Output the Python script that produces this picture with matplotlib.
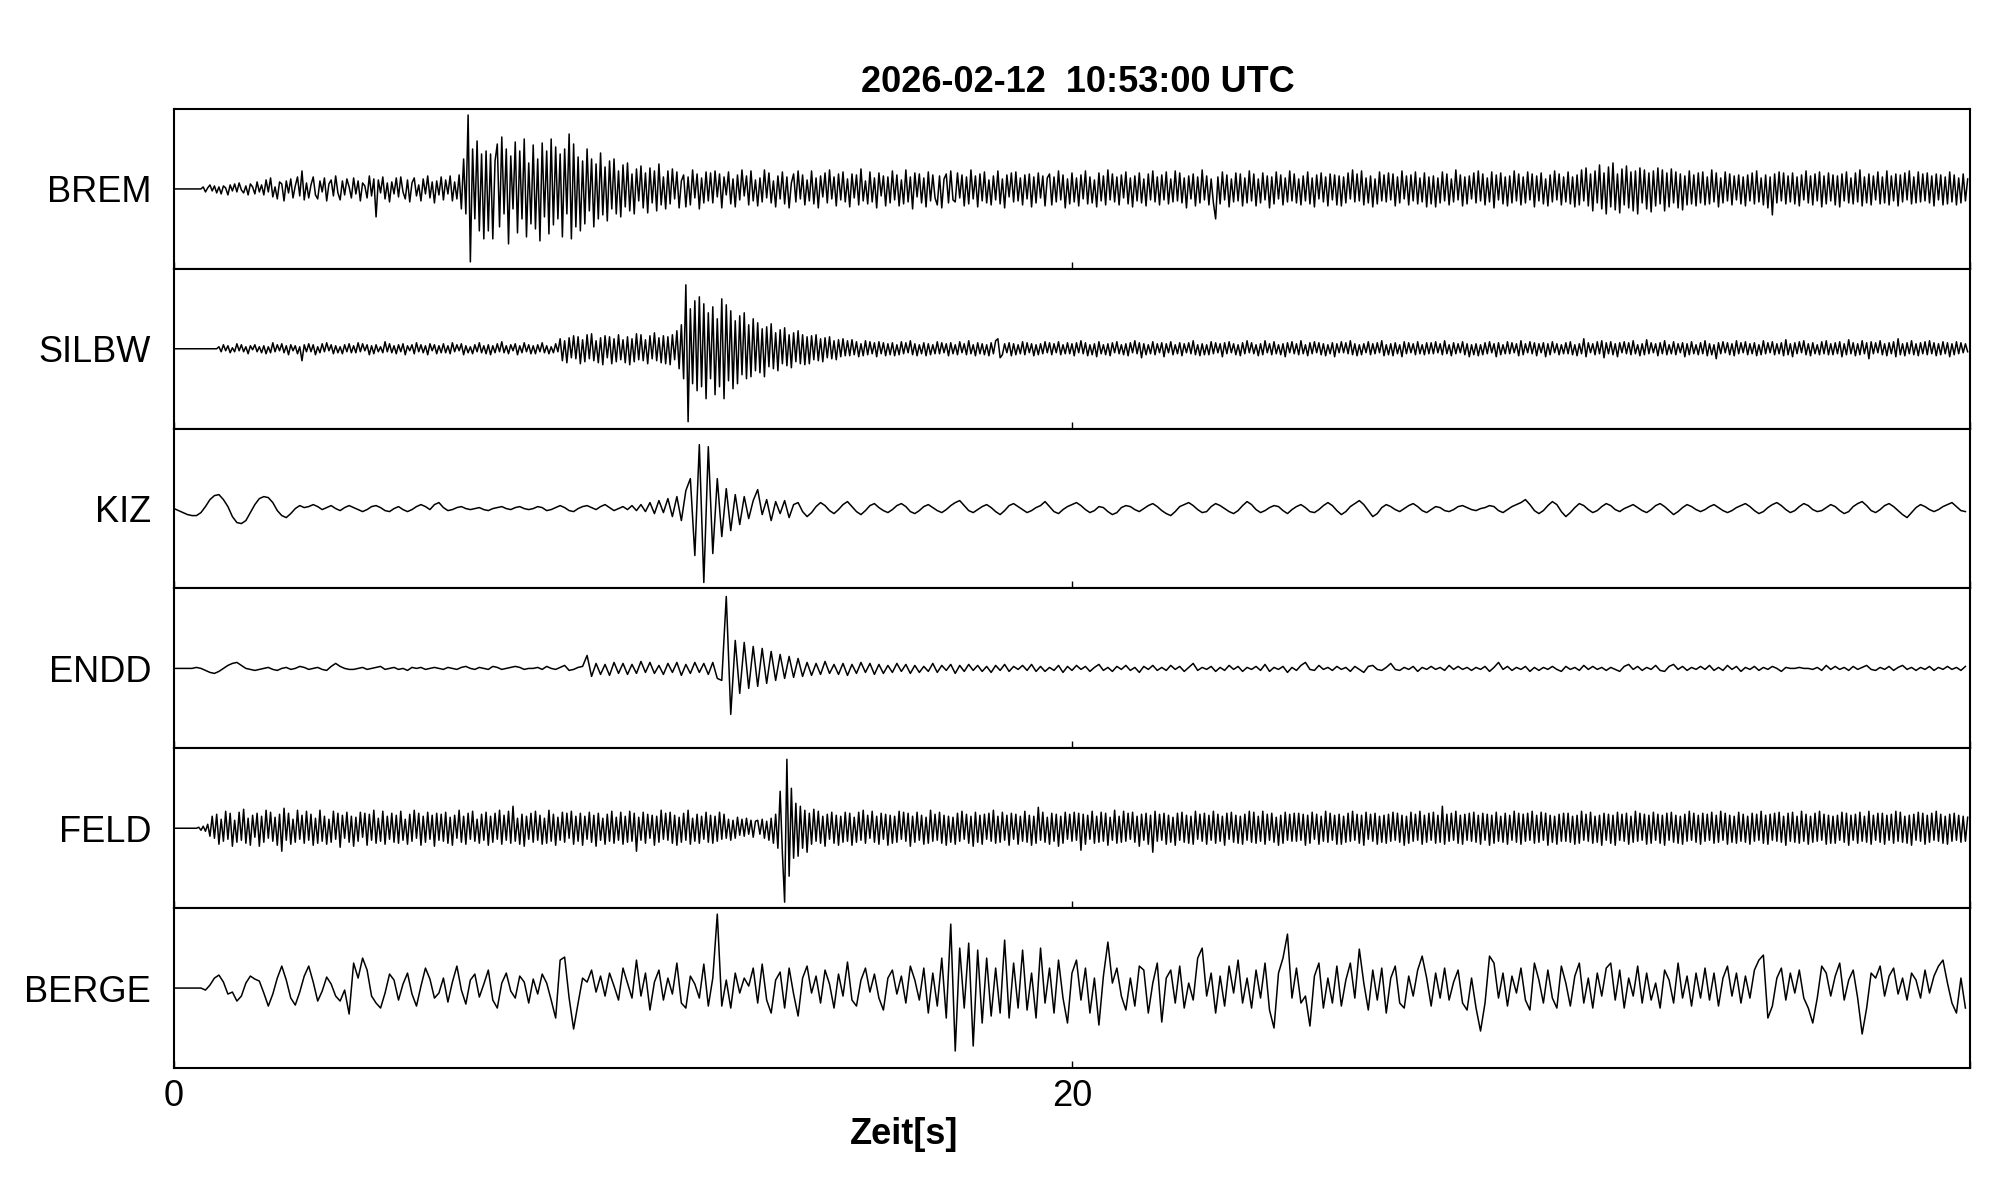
import numpy as np
import matplotlib
matplotlib.use("Agg")
import matplotlib.pyplot as plt

plt.rcParams["font.family"] = ["Liberation Sans", "DejaVu Sans"]

title = "2026-02-12  10:53:00 UTC"
xlabel = "Zeit[s]"
stations = ["BREM", "SILBW", "KIZ", "ENDD", "FELD", "BERGE"]
# samples per second of each trace below
rates = [20, 20, 10, 10, 20, 10]
xticks = [0, 20, 40]
xticklabels = ["0", "20", ""]

# amplitudes (scaled counts), one row per second
brem = [
    0, 0, 0, 0, 0, 0, 0, 0, 0, 0, 0, 0, 0, 2, -3, 1, 4, -2, 3, -4,
    2, -5, 3, 1, -6, 4, -2, 5, -3, 6, -1, -4, 3, -6, 5, 2, -5, 7, -3, 4,
    -6, 9, -3, 11, -8, 2, -10, 7, 5, -12, 8, -4, 10, -9, 3, 12, -7, 18, -11, 6,
    -9, 4, 12, -6, -10, 8, -3, 11, -12, 5, 9, -7, 13, -4, -11, 8, -6, 10, 2, -9,
    11, -5, 8, -12, 6, 3, -9, 13, -7, 10, -28, 9, -4, 12, -10, 6, -13, 7, -5, 11,
    -8, 12, -3, -10, 9, -13, 6, 11, -7, 4, -12, 10, -5, 13, -9, 7, -14, 8, -6, 12,
    -11, 9, -5, 13, -12, 7, -10, 14, -20, 30, -25, 74, -73, 40, -30, 48, -42, 35, -50, 38,
    -42, 35, -50, 28, 45, -38, 52, -25, 40, -55, 33, -20, 47, -44, 38, -30, 50, -48, 26, -35,
    44, -40, 30, -52, 46, -28, 38, -45, 50, -36, 42, -30, 35, -48, 40, -25, 55, -50, 45, -38,
    32, -42, 28, -35, 40, -22, 30, -38, 25, -30, 36, -26, 22, -32, 28, -20, 30, -25, 18, -28,
    24, -18, 26, -22, 15, -25, 20, -12, 23, -19, 16, -24, 21, -14, 18, -22, 25, -16, 12, -20,
    18, -15, 20, -10, 17, -19, 8, 14, -18, 12, -16, 19, -9, 15, -20, 11, -14, 17, -12, 16,
    -14, 18, -8, 15, -19, 12, -6, 17, -15, 10, -18, 14, -11, 19, -7, 13, -16, 18, -12, 9,
    -17, 11, -13, 19, -9, 16, -14, 8, -18, 13, -10, 17, -15, 12, -19, 6, 15, -13, 18, -10,
    14, -16, 9, -12, 18, -15, 11, -19, 13, -8, 16, -14, 19, -10, 12, -17, 15, -11, 17, -13,
    10, -18, 15, -9, 14, -16, 20, -12, 8, -15, 17, -13, 11, -19, 16, -7, 13, -17, 12, -14,
    18, -11, 14, -17, 9, -15, 19, -13, 12, -20, 16, -8, 15, -14, 11, -18, 17, -12, 14, -9,
    -16, 13, -19, 10, 15, -14, 18, -11, -13, 16, -9, 14, -17, 12, -15, 19, -10, 13, -18, 15,
    -12, 17, -14, 9, -16, 13, -11, 18, -15, 10, -19, 14, -8, 16, -13, 17, -12, 11, -16, 14,
    -10, 15, -18, 12, -14, 16, -9, 13, -17, 11, 15, -16, 12, -13, 18, -11, 14, -19, 10, -15,
    16, -13, 11, -17, 14, -10, 18, -15, 12, -14, 9, -18, 16, -12, 13, -16, 19, -11, 15, -13,
    12, -16, 14, -9, 17, -15, 11, -18, 13, -12, 16, -14, 10, -17, 15, -11, 18, -13, 12, -16,
    14, -11, 17, -15, 10, -13, 18, -12, 16, -14, 11, -19, 13, -10, 15, -17, 12, -14, 19, -11,
    13, -16, 10, -14, -30, 12, -15, 17, -11, 14, -18, 10, -13, 16, -12, 15, -17, 11, -14, 18,
    -12, 15, -17, 10, -14, 16, -11, 13, -19, 12, -15, 17, -10, 14, -16, 11, -13, 18, -12, 15,
    -14, 10, -16, 13, -12, 17, -15, 11, -18, 14, -10, 16, -13, 12, -17, 15, -11, 14, -16, 13,
    -17, 12, -14, 16, -10, 19, -13, 15, -12, 18, -16, 11, -14, 13, -18, 10, -15, 17, -12, 14,
    -13, 16, -11, 15, -17, 12, -14, 18, -10, 13, -16, 14, -12, 17, -15, 11, -13, 16, -18, 12,
    -15, 13, -18, 11, -14, 17, -12, 15, -16, 10, -13, 19, -11, 14, -17, 12, -15, 13, -10, 16,
    -14, 18, -12, 15, -16, 11, -13, 17, -19, 14, -11, 16, -15, 12, -17, 13, -14, 18, -12, 15,
    -16, 12, -14, 17, -11, 15, -18, 13, -12, 16, -15, 10, -17, 14, -13, 18, -11, 15, -16, 12,
    -13, 17, -15, 12, -18, 14, -16, 19, -12, 21, -17, 15, -22, 18, -14, 24, -20, 16, -25, 22,
    -18, 26, -21, 15, -24, 20, -16, 23, -19, 17, -22, 18, -25, 21, -14, 19, -20, 16, -23, 18,
    -17, 21, -15, 19, -22, 16, -18, 20, -14, 17, -19, 15, -21, 13, -16, 18, -15, 14, -17, 16,
    -14, 17, -16, 12, -15, 19, -13, 16, -18, 11, -14, 17, -12, 15, -16, 13, -11, 14, -15, 12,
    -17, 14, -12, 16, -15, 18, -13, 11, -16, 14, -19, 12, -26, 15, -14, 17, -12, 16, -15, 13,
    -13, 16, -15, 12, -17, 14, -11, 18, -14, 13, -16, 15, -12, 17, -18, 13, -15, 16, -12, 14,
    -16, 13, -18, 15, -12, 17, -14, 11, -15, 16, -13, 19, -17, 12, -14, 15, -16, 13, -11, 17,
    -15, 12, -14, 18, -16, 13, -12, 15, -17, 14, -13, 16, -11, 18, -15, 12, -14, 17, -13, 15,
    -12, 16, -14, 13, -17, 15, -11, 14, -16, 12, -15, 17, -13, 14, -16, 11, -14, 15, -12, 10,
]
silbw = [
    0, 0, 0, 0, 0, 0, 0, 0, 0, 0, 0, 0, 0, 0, 0, 0, 0, 0, 0, 0,
    2, -3, 4, -2, 3, -4, 1, -3, 5, -2, 4, -3, 2, -5, 3, -1, 4, -3, 2, -4,
    3, -5, 2, -4, 6, -3, 4, -2, 5, -4, 3, -6, 4, -2, 3, -5, 2, -12, 4, -3,
    5, -3, 4, -6, 2, -4, 5, -3, 6, -2, 4, -5, 3, -4, 2, -5, 4, -3, 5, -4,
    3, -4, 6, -3, 5, -2, 4, -6, 3, -5, 4, -3, 2, -4, 7, -3, 5, -4, 3, -5,
    4, -3, 5, -6, 3, -2, 4, -5, 6, -3, 4, -4, 3, -6, 5, -2, 4, -5, 3, -4,
    5, -4, 3, -5, 6, -3, 4, -2, 5, -6, 3, -4, 2, -5, 4, -3, 6, -4, 3, -5,
    4, -6, 3, -4, 5, -3, 7, -4, 3, -5, 4, -2, 5, -6, 3, -4, 6, -3, 4, -5,
    3, -5, 4, -3, 6, -4, 3, -5, 2, -4, 5, -3, 10, -12, 8, -14, 11, -9, 13, -10,
    12, -15, 9, -13, 14, -10, 15, -12, 8, -14, 11, -16, 13, -9, 12, -15, 10, -13, 14, -11,
    9, -14, 12, -16, 10, -13, 15, -11, 14, -12, 9, -15, 13, -10, 16, -12, 11, -14, 13, -15,
    12, -16, 14, -11, 18, -20, 24, -30, 64, -73, 40, -35, 48, -42, 52, -38, 45, -50, 36, -30,
    42, -46, 30, -38, 50, -50, 44, -32, 38, -40, 28, -35, 33, -26, 36, -30, 24, -28, 30, -22,
    26, -24, 20, -28, 22, -18, 25, -20, 16, -22, 19, -15, 21, -17, 14, -19, 16, -13, 18, -15,
    14, -16, 12, -15, 13, -11, 14, -12, 10, -13, 11, -9, 12, -10, 8, -11, 9, -8, 10, -7,
    8, -7, 9, -6, 7, -8, 5, -7, 8, -6, 7, -5, 6, -8, 7, -5, 6, -7, 5, -6,
    6, -7, 4, -6, 7, -5, 6, -4, 8, -6, 5, -7, 4, -5, 6, -7, 5, -6, 4, -5,
    7, -5, 6, -4, 5, -7, 6, -5, 4, -6, 7, -4, 5, -6, 8, -5, 4, -7, 6, -5,
    5, -6, 4, -7, 6, -5, 8, 10, -9, -6, 5, -4, 6, -7, 5, -6, 4, -5, 7, -6,
    6, -4, 5, -7, 4, -6, 5, -5, 7, -4, 6, -6, 5, -4, 7, -6, 4, -5, 6, -5,
    5, -7, 6, -4, 8, -5, 6, -7, 4, -6, 5, -8, 7, -5, 4, -6, 5, -7, 6, -4,
    7, -5, 4, -6, 5, -7, 6, -4, 8, -5, 6, -9, 5, -6, 4, -5, 7, -6, 5, -4,
    6, -8, 5, -4, 7, -6, 4, -5, 6, -7, 5, -4, 6, -5, 8, -6, 4, -7, 5, -6,
    4, -6, 7, -5, 6, -4, 5, -8, 6, -5, 7, -4, 5, -6, 4, -7, 6, -5, 8, -4,
    6, -5, 4, -7, 5, -6, 8, -4, 5, -6, 7, -5, 4, -6, 5, -8, 6, -4, 7, -5,
    5, -6, 8, -5, 4, -7, 6, -5, 7, -4, 6, -6, 5, -7, 4, -5, 6, -8, 5, -4,
    7, -4, 6, -5, 8, -6, 5, -7, 4, -6, 5, -4, 7, -6, 5, -5, 6, -4, 8, -7,
    4, -6, 5, -7, 6, -5, 4, -8, 7, -5, 6, -4, 5, -6, 7, -5, 4, -6, 6, -5,
    6, -5, 7, -4, 5, -6, 8, -5, 4, -7, 6, -5, 5, -4, 7, -6, 5, -8, 4, -6,
    5, -7, 4, -6, 6, -5, 7, -4, 5, -8, 6, -6, 4, -5, 7, -5, 6, -4, 5, -7,
    8, -6, 5, -4, 7, -5, 6, -7, 5, -4, 6, -8, 5, -6, 7, -4, 5, -6, 4, -5,
    6, -5, 7, -6, 4, -7, 5, -5, 10, -8, 6, -4, 5, -6, 7, -5, 8, -9, 6, -5,
    7, -6, 5, -8, 6, -4, 7, -5, 6, -6, 8, -5, 4, -7, 5, -6, 9, -5, 6, -4,
    5, -7, 6, -5, 8, -6, 4, -5, 7, -6, 5, -4, 6, -8, 5, -6, 7, -5, 4, -6,
    6, -5, 8, -7, 5, -6, 4, -10, 6, -5, 7, -4, 6, -6, 5, -7, 8, -5, 6, -4,
    7, -6, 5, -5, 6, -7, 4, -6, 8, -5, 6, -4, 7, -6, 5, -5, 6, -7, 9, -6,
    5, -8, 6, -5, 7, -4, 8, -6, 5, -7, 6, -5, 4, -6, 7, -5, 8, -6, 5, -6,
    6, -5, 7, -8, 5, -6, 9, -5, 6, -7, 5, -6, 8, -5, 6, -10, 7, -5, 6, -4,
    8, -6, 5, -7, 6, -5, 7, -8, 10, -6, 5, -7, 6, -5, 8, -6, 5, -7, 6, -5,
    7, -6, 8, -5, 6, -7, 5, -6, 7, -5, 6, -8, 5, -6, 7, -5, 6, -4, 5, -3,
]
kiz = [
    0, -2, -4, -6, -7, -7, -4, 2, 9, 13, 14, 9, 2, -8, -14, -15, -12, -4, 4, 10,
    12, 11, 6, -2, -7, -9, -5, 0, 3, 1, 2, 4, 2, -1, 1, 3, 0, -2, 1, 3,
    1, -1, -3, -1, 2, 3, 1, -2, -3, 0, 2, -1, -3, -1, 2, 4, 2, -1, 4, 6,
    1, -2, -1, 1, 2, 0, -1, 0, 1, -1, -2, 0, 1, 2, 0, -1, 1, 2, 0, -1,
    0, 2, 1, -2, -1, 1, 3, 1, -2, -3, 0, 2, 3, 1, -1, 2, 4, 1, -2, 0,
    2, -1, 3, -2, 4, -3, 6, -5, 8, -4, 10, -8, 12, -12, 18, 30, -47, 64, -74, 62,
    -45, 30, -28, 20, -22, 14, -16, 12, -10, 8, 19, -6, 9, -12, 7, -5, 8, -9, 4, 6,
    -3, -8, -4, 2, 6, 3, -2, -5, -1, 4, 7, 2, -3, -6, -2, 3, 5, 1, -2, -4,
    -1, 3, 5, 2, -3, -5, -2, 2, 4, 1, -2, -4, -1, 3, 6, 8, 3, -2, -4, -1,
    2, 4, 1, -3, -6, -2, 3, 5, 2, -1, -4, -2, 1, 3, 7, 2, -3, -5, -1, 2,
    4, 6, 3, -1, -4, -2, 2, 1, -3, -6, -4, 1, 3, 2, -1, -3, 0, 3, 5, 2,
    -2, -5, -7, -3, 2, 4, 6, 3, -1, -4, -3, 2, 5, 3, 0, -3, -5, -2, 3, 7,
    4, -1, -4, -2, 1, 3, 2, -2, -5, -1, 2, 4, 1, -3, -4, -1, 3, 6, 3, -2,
    -6, -3, 2, 5, 8, 4, -2, -8, -5, 1, 4, 2, -1, -3, 0, 3, 5, 2, -2, -4,
    -1, 2, 1, -2, -3, -1, 2, 3, 1, -1, -2, 0, 1, 3, 2, -2, -4, -1, 2, 4,
    6, 9, 4, -2, -5, -2, 3, 7, 4, -3, -8, -4, 1, 5, 3, -1, -4, -2, 2, 5,
    3, -1, -3, 0, 2, 4, 1, -2, -4, -1, 3, 5, 2, -2, -6, -3, 1, 4, 2, -1,
    -3, -1, 2, 4, 1, -2, -4, -2, 1, 3, 5, 2, -2, -5, -3, 1, 4, 6, 3, -1,
    -4, -2, 2, 5, 3, -1, -3, -2, 1, 4, 2, -2, -5, -3, 2, 5, 7, 3, -2, -4,
    -1, 3, 5, 2, -2, -6, -9, -4, 1, 4, 2, -1, -3, -1, 2, 4, 6, 2, -2, -3,
]
endd = [
    0, 0, 0, 0, 0, 1, 0, -2, -4, -5, -3, 0, 3, 5, 6, 3, 0, -1, -2, -1,
    0, 1, -1, -2, 0, 1, -1, 0, 2, 1, -1, 0, 1, -1, -2, 2, 5, 2, 0, -1,
    -1, 0, 1, -1, 0, 1, 2, -1, 0, 1, -1, 0, -2, 1, 0, 1, -1, 0, 1, 0,
    -1, 1, 0, -1, 1, 2, 0, -1, 1, 0, -1, 2, 1, -1, 0, 1, 2, 1, -1, 0,
    0, 1, -1, 2, 0, -1, 1, 3, -2, -1, 1, 2, 13, -8, 5, -6, 4, -7, 6, -5,
    5, -6, 4, -5, 7, -4, 6, -5, 3, -6, 5, -4, 6, -7, 4, -5, 6, -4, 5, -6,
    6, -10, -12, 72, -46, 28, -25, 26, -20, 22, -18, 20, -15, 17, -12, 14, -10, 12, -9, 10,
    -8, 6, -7, 5, -6, 7, -5, 4, -6, 5, -7, 4, -5, 6, -4, 5, -6, 4, -5, 3,
    -4, 5, -3, 4, -5, 3, -4, 2, -3, 5, -4, 3, -2, 4, -5, 3, -3, 4, -2, 3,
    -3, 2, -4, 3, -2, 4, -3, 2, -1, 3, -2, 4, -3, 2, -3, 1, -2, 3, -4, 2,
    -2, 3, -1, 2, -3, 1, 4, -2, 1, -3, 2, -1, 3, -2, 1, -4, 2, -1, 3, -2,
    1, -2, 3, -1, 2, -3, 1, 5, -2, 1, -1, 2, -3, 1, -2, 3, -1, 2, -3, 1,
    -1, 2, -2, 4, -3, 1, -1, 2, -4, 1, -2, 3, 6, -1, -2, 3, -1, 1, -2, 2,
    -1, 1, -3, 2, -1, -4, 2, 3, -1, -2, 1, 5, -1, -2, 1, -1, 2, -3, 1, -1,
    2, -1, 1, -2, 3, -1, 2, -1, 1, -2, 1, -1, 2, -3, 1, 6, -1, 2, -2, 1,
    -1, 2, -3, 1, -2, 1, -1, 2, -1, -3, 2, -1, 1, -2, 3, -1, 2, -1, 1, -2,
    1, -1, -3, 2, 4, -1, 2, -2, 1, -1, 3, -2, -3, 2, 4, -1, 2, -2, 1, -1,
    2, -1, 3, -2, 1, -2, 3, -1, 2, -3, 1, -1, 2, -2, 1, -1, 2, 0, -3, 1,
    0, 0, 1, 0, 0, -1, 1, -2, 3, -1, 2, -1, 1, -2, 2, -1, 1, 3, -1, -2,
    1, -1, 2, -2, 1, 3, -1, 1, -2, 1, -1, 2, -2, 1, -1, 2, -1, 1, -2, 2,
]
feld = [
    0, 0, 0, 0, 0, 0, 0, 0, 0, 0, 0, 1, -2, 2, -3, 4, -8, 12, -10, 14,
    -16, 9, -13, 17, -11, 15, -18, 8, -14, 16, -12, 19, -15, 10, -17, 13, -9, 15, -18, 12,
    -14, 18, -10, 16, -13, 11, -17, 14, -23, 20, -12, 15, -16, 9, -14, 18, -11, 13, -15, 17,
    -12, 14, -17, 10, -15, 18, -13, 12, -16, 9, -14, 17, -11, 15, -19, 13, -10, 16, -14, 12,
    -18, 11, -13, 16, -9, 15, -17, 14, -12, 18, -15, 10, -13, 17, -16, 12, -11, 15, -14, 13,
    -15, 17, -12, 9, -16, 14, -13, 18, -10, 15, -17, 12, -14, 16, -11, 13, -18, 15, -12, 14,
    -13, 16, -15, 11, -17, 13, -10, 18, -14, 12, -16, 15, -11, 17, -13, 9, -15, 14, -12, 16,
    -17, 12, -14, 15, -11, 18, -16, 13, -12, 17, -15, 22, -13, 10, -16, 14, -18, 12, -11, 15,
    -14, 17, -12, 13, -16, 10, -15, 18, -13, 14, -17, 11, -12, 16, -14, 15, -10, 17, -16, 12,
    -13, 15, -17, 12, -11, 16, -14, 13, -18, 15, -12, 10, -16, 14, -13, 17, -15, 11, -12, 16,
    -16, 12, -14, 17, -13, 15, -23, 11, -12, 16, -15, 14, -10, 13, -17, 12, -14, 18, -11, 15,
    -12, 16, -15, 13, -17, 11, -14, 15, -12, 18, -16, 10, -13, 14, -15, 12, -11, 16, -14, 13,
    -15, 12, -13, 16, -11, 14, -10, 9, -12, 8, -10, 11, -7, 9, -8, 10, -6, 8, -9, 7,
    8, -6, 9, -10, 7, -12, 10, -15, 14, -20, 37, -25, -74, 69, -48, 40, -30, 25, -28, 22,
    -20, 18, -24, 15, -16, 19, -13, 17, -15, 12, -18, 14, -11, 16, -15, 13, -17, 12, -14, 16,
    -13, 15, -17, 11, -14, 16, -12, 18, -15, 13, -10, 17, -14, 12, -16, 15, -11, 14, -17, 13,
    -15, 12, -14, 17, -11, 16, -13, 15, -18, 12, -14, 16, -12, 13, -16, 11, -15, 18, -13, 14,
    -12, 16, -15, 13, -17, 12, -14, 11, -16, 15, -13, 17, -11, 14, -15, 12, -18, 16, -14, 13,
    -16, 14, -11, 15, -13, 18, -15, 12, -14, 16, -12, 13, -17, 15, -11, 14, -16, 12, -13, 17,
    -14, 13, -17, 12, -15, 21, -12, 16, -14, 11, -16, 15, -13, 14, -18, 12, -15, 16, -11, 14,
    -13, 16, -12, 15, -22, 14, -16, 13, -11, 17, -15, 12, -14, 16, -13, 15, -17, 11, -12, 18,
    -15, 12, -14, 17, -13, 15, -11, 16, -14, 12, -18, 14, -12, 15, -16, 13, -24, 17, -13, 14,
    -12, 15, -16, 13, -14, 11, -17, 15, -12, 16, -14, 13, -15, 12, -16, 17, -11, 14, -13, 15,
    -16, 13, -12, 17, -15, 14, -13, 12, -17, 15, -11, 16, -14, 13, -15, 12, -16, 14, -12, 17,
    -14, 16, -15, 12, -13, 17, -16, 14, -12, 15, -14, 11, -17, 13, -15, 16, -12, 14, -13, 15,
    -13, 15, -12, 14, -17, 13, -15, 16, -11, 14, -16, 12, -13, 17, -14, 15, -12, 13, -16, 14,
    -16, 12, -14, 15, -13, 17, -12, 14, -15, 13, -17, 16, -11, 14, -13, 15, -16, 12, -14, 13,
    -15, 14, -13, 16, -12, 15, -14, 13, -17, 12, -15, 16, -13, 14, -12, 17, -16, 13, -14, 15,
    -12, 16, -15, 13, -14, 22, -16, 14, -13, 15, -12, 17, -15, 13, -16, 14, -12, 15, -13, 16,
    -14, 13, -16, 15, -12, 14, -17, 13, -15, 16, -13, 12, -14, 15, -16, 13, -12, 17, -14, 15,
    -16, 14, -13, 15, -12, 17, -15, 13, -14, 16, -12, 15, -17, 13, -14, 12, -16, 14, -13, 15,
    -13, 15, -14, 12, -16, 13, -15, 17, -12, 14, -13, 16, -15, 12, -14, 13, -17, 15, -12, 14,
    -15, 13, -17, 16, -12, 14, -13, 15, -16, 12, -14, 17, -13, 15, -12, 14, -16, 13, -15, 16,
    -12, 14, -15, 13, -17, 15, -12, 16, -14, 13, -15, 12, -16, 14, -13, 17, -12, 15, -14, 13,
    -16, 15, -13, 14, -12, 16, -15, 13, -14, 17, -12, 15, -16, 13, -14, 12, -15, 16, -13, 14,
    -14, 12, -16, 15, -13, 14, -12, 17, -15, 13, -16, 14, -12, 15, -13, 16, -14, 12, -17, 15,
    -13, 16, -14, 12, -15, 17, -13, 14, -16, 12, -14, 15, -13, 17, -12, 14, -16, 13, -15, 12,
    -15, 13, -12, 16, -14, 15, -17, 13, -12, 14, -15, 16, -13, 12, -14, 17, -16, 13, -12, 15,
    -14, 15, -16, 13, -12, 14, -15, 17, -13, 16, -14, 12, -15, 13, -17, 14, -12, 16, -13, 15,
    -16, 13, -14, 15, -12, 17, -13, 14, -15, 12, -16, 14, -13, 15, -12, 13, -14, 12, -13, 11,
]
berge = [
    0, 0, 0, 0, 0, 0, 0, -2, 3, 10, 13, 6, -6, -4, -13, -8, 5, 12, 9, 7,
    -5, -18, -6, 10, 22, 8, -10, -17, -4, 12, 22, 6, -13, -3, 11, 4, -8, -13, -2, -26,
    25, 10, 30, 18, -8, -15, -20, -5, 14, 8, -12, 4, 15, -6, -18, 2, 20, 9, -10, -5,
    10, -14, 6, 22, -2, -16, 8, 14, -9, 4, 18, -12, -20, 5, 15, -3, -10, 12, 6, -15,
    9, -6, 14, 5, -12, -30, 28, 31, -10, -41, -15, 10, 6, 18, -4, 12, -8, 15, 2, -12,
    20, 5, -10, 28, -8, 15, -22, 6, 18, -12, 10, -6, 25, -15, -20, 12, 4, -10, 24, -18,
    10, 74, -18, 8, -20, 15, -5, 10, 2, 20, -15, 24, -12, -25, 8, 16, -20, 20, -6, -28,
    10, 22, -5, 12, -15, 18, 4, -20, 14, -8, 26, -12, -18, 8, 20, -4, 14, -10, -22, 10,
    18, -6, 12, -15, 22, 8, -12, 20, -25, 15, -18, 30, -30, 64, -63, 40, -20, 45, -58, 38,
    -35, 30, -28, 20, -25, 48, -30, 25, -20, 38, -22, 15, -30, 40, -15, 20, -25, 28, -10, -35,
    15, 28, -12, 20, -25, 10, -37, 12, 46, 5, 20, -8, -22, 10, -18, 22, 18, -25, 5, 25,
    -34, 10, 18, -15, 22, -20, 5, -12, 30, 40, -8, 15, -25, 12, -18, 22, -5, 28, -15, 10,
    -20, 18, -10, 25, -22, -40, 15, 30, 54, -10, 20, -15, -8, -38, 12, 25, -20, 10, -15, 22,
    -18, 8, 25, -10, 39, 5, -22, 18, -12, 20, -25, 10, 22, -15, -20, 12, -8, 18, 32, 10,
    -18, 15, -10, 20, -12, 6, 18, -15, -22, 10, -20, -43, -15, 32, 25, -10, 15, -18, 12, -5,
    20, -12, -22, 25, 8, -15, 18, -10, -20, 22, 5, -18, 12, 25, -15, 10, -20, 15, -8, 20,
    25, -12, 18, -20, 10, -8, 22, -15, 15, -12, 5, -20, 18, 8, -15, 25, -10, 12, -18, 15,
    -10, 20, -12, 15, -18, 10, 22, -8, 15, -15, 12, -10, 18, 28, 33, -30, -18, 10, 20, -12,
    15, -5, 18, -10, -20, -35, -10, 22, 15, -8, 12, 25, -12, 8, 18, -10, -46, -20, 15, 10,
    22, -8, 12, 20, -6, 10, -12, 15, 8, -10, 18, -5, 12, 22, 28, 5, -15, -25, 10, -20,
]
traces = [brem, silbw, kiz, endd, feld, berge]

fig, axes = plt.subplots(len(stations), 1, figsize=(20.05, 12.02), dpi=100, sharex=True)
fig.subplots_adjust(left=0.0868, right=0.9825, top=0.9093, bottom=0.1115, hspace=0)

for ax, name, tr, sps in zip(axes, stations, traces, rates):
    y = np.array(tr, dtype=float)
    t = np.arange(len(y)) / sps
    ax.plot(t, y, color="black", lw=1.1)
    ax.set_xlim(0, 40)
    ax.set_ylim(-80, 80)
    ax.set_yticks([])
    ax.set_xticks(xticks)
    ax.tick_params(axis="x", direction="in", length=5, width=1, top=False,
                   labelsize=26, pad=8)
    for s in ax.spines.values():
        s.set_linewidth(1.5)
    ax.text(-0.0128, 0.5, name, transform=ax.transAxes, ha="right",
            va="center_baseline", fontsize=26)

axes[-1].set_xticklabels(xticklabels)
fig.text(1078 / 2005, 1 - 82 / 1202, title, ha="center", va="center",
         fontsize=26, fontweight="bold")
fig.text(904 / 2005, 1 - 1134 / 1202, xlabel, ha="center", va="center",
         fontsize=26, fontweight="bold")

fig.savefig("out.png", dpi=100)
